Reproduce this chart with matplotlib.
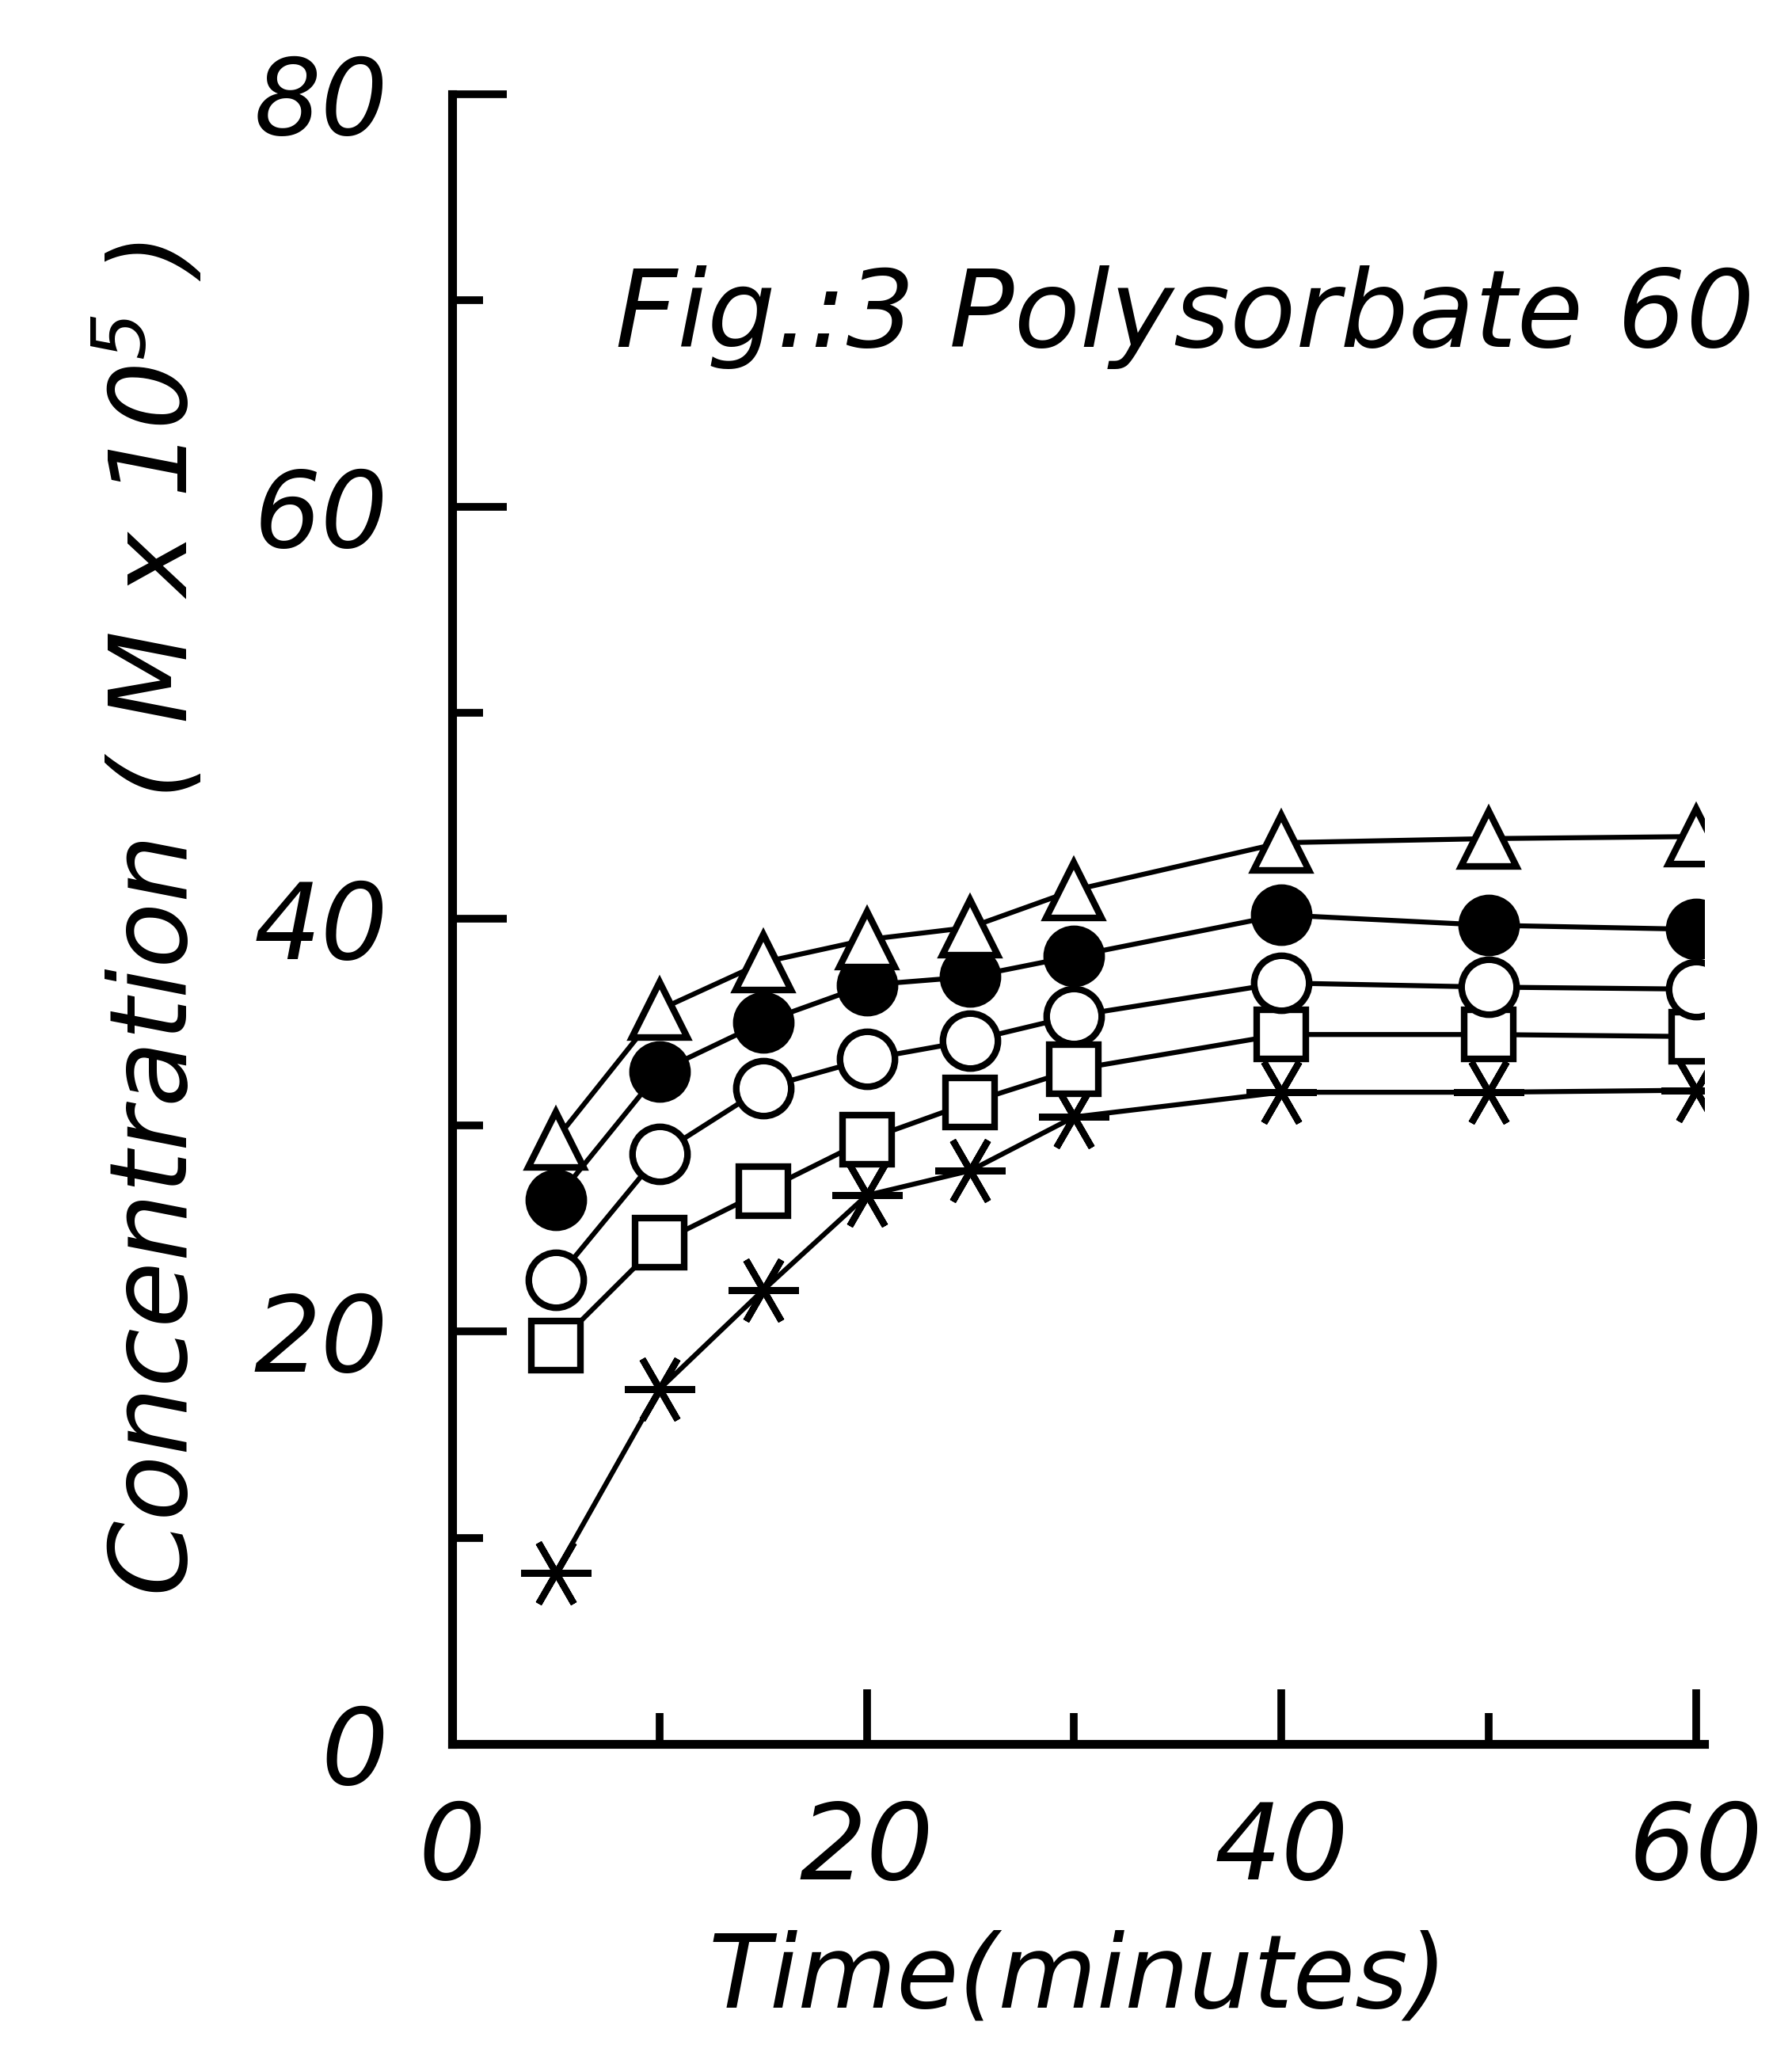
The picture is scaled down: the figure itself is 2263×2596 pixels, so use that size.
import matplotlib
matplotlib.use("Agg")
import matplotlib.pyplot as plt
from matplotlib.ticker import MultipleLocator

# values (Polysorbate 60)
time_min = [5, 10, 15, 20, 25, 30, 40, 50, 60]
triangles = [29.3, 35.6, 37.9, 39.0, 39.6, 41.4, 43.7, 43.9, 44.0]
filled_circles = [26.4, 32.6, 35.0, 36.8, 37.2, 38.2, 40.2, 39.7, 39.5]
open_circles = [22.5, 28.6, 31.8, 33.2, 34.1, 35.3, 36.9, 36.7, 36.6]
squares = [19.3, 24.3, 26.8, 29.3, 31.1, 32.7, 34.4, 34.4, 34.3]
stars = [8.3, 17.2, 22.0, 26.6, 27.8, 30.4, 31.6, 31.6, 31.7]

x_ticks = [0, 20, 40, 60]
y_ticks = [0, 20, 40, 60, 80]

plt.rcParams['font.family'] = 'DejaVu Sans'
plt.rcParams['font.style'] = 'italic'

fig = plt.figure(figsize=(22.63, 25.96), dpi=100)
ax = fig.add_axes([0.2523, 0.1518, 0.6987, 0.8024])

lw = 4.5
mew = 6
common = dict(color='black', linewidth=lw, markeredgewidth=mew, markeredgecolor='black')

ax.plot(time_min, stars, marker=(6, 2, 90), markersize=64, **common)
ax.plot(time_min, squares, marker='s', markersize=44, markerfacecolor='white', **common)
ax.plot(time_min, open_circles, marker='o', markersize=50, markerfacecolor='white', **common)
ax.plot(time_min, filled_circles, marker='o', markersize=50, markerfacecolor='black', **common)
ax.plot(time_min, triangles, marker='^', markersize=50, markerfacecolor='white', **common)

ax.set_xlim(0, 60.4)
ax.set_ylim(0, 80)
ax.set_xticks(x_ticks)
ax.set_yticks(y_ticks)
ax.xaxis.set_minor_locator(MultipleLocator(10))
ax.yaxis.set_minor_locator(MultipleLocator(10))

for side in ['top', 'right']:
    ax.spines[side].set_visible(False)
for side in ['left', 'bottom']:
    ax.spines[side].set_linewidth(8)

ax.tick_params(axis='both', which='major', direction='in', length=50, width=7,
               labelsize=96, pad=50)
ax.tick_params(axis='both', which='minor', direction='in', length=28, width=7)
ax.tick_params(axis='y', which='major', pad=58)

ax.set_xlabel("Time(minutes)", fontsize=92, labelpad=25)
ax.set_ylabel(r"Concentration ( M x 10$^{5}$ )", fontsize=98, labelpad=40)

ax.text(0.13, 0.847, "Fig.:3 Polysorbate 60", transform=ax.transAxes,
        fontsize=98, ha='left', va='baseline', clip_on=False)

fig.savefig("out.png", dpi=100, facecolor='white')
